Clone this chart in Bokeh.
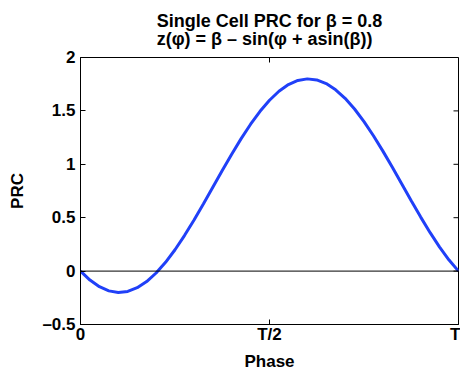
import math
from bokeh.plotting import figure
from bokeh.models import Title, Span, FixedTicker
from bokeh.embed import file_html
from bokeh.resources import INLINE

phase = [0.0, 0.025, 0.05, 0.075, 0.1, 0.125, 0.15, 0.175, 0.2, 0.225,
         0.25, 0.275, 0.3, 0.325, 0.35, 0.375, 0.4, 0.425, 0.45, 0.475,
         0.5, 0.525, 0.55, 0.575, 0.6, 0.625, 0.65, 0.675, 0.7, 0.725,
         0.75, 0.775, 0.8, 0.825, 0.85, 0.875, 0.9, 0.925, 0.95, 0.975, 1.0]
prc = [0.0, -0.0841, -0.1463, -0.1852, -0.1999, -0.19, -0.1556, -0.0978, -0.0177, 0.0822,
       0.2, 0.3325, 0.4766, 0.6286, 0.7848, 0.9414, 1.0945, 1.2404, 1.3754, 1.4963,
       1.6, 1.6841, 1.7463, 1.7852, 1.7999, 1.79, 1.7556, 1.6978, 1.6177, 1.5178,
       1.4, 1.2675, 1.1234, 0.9714, 0.8152, 0.6586, 0.5055, 0.3596, 0.2246, 0.1037, 0.0]
x_ticks = [0, 0.5, 1]
x_tick_labels = {0: "0", 0.5: "T/2", 1: "T"}
y_ticks = [-0.5, 0, 0.5, 1, 1.5, 2]
y_tick_labels = {-0.5: "\u20130.5", 0: "0", 0.5: "0.5", 1: "1", 1.5: "1.5", 2: "2"}
x_min, x_max = 0, 1
y_min, y_max = -0.5, 2
title_text = "Single Cell PRC for \u03b2 = 0.8\nz(\u03c6) = \u03b2 \u2013 sin(\u03c6 + asin(\u03b2))"

FONT = "Liberation Sans"
FS = "17px"

p = figure(width=460, height=377, output_backend="svg", toolbar_location=None,
           x_range=(x_min, x_max), y_range=(y_min, y_max),
           min_border_left=80, min_border_right=2, min_border_top=56, min_border_bottom=53)
p.title = None
p.grid.visible = False
p.outline_line_color = "black"
p.outline_line_width = 1

p.line(phase, prc, line_color="#2040f8", line_width=3)
p.add_layout(Span(location=0, dimension="width", line_color="black", line_width=1))

# inward ticks on the right and top edges of the box
p.ray(x=[x_max] * len(y_ticks), y=y_ticks, length=5, length_units="screen",
      angle=math.pi, line_color="black", line_width=1)
p.ray(x=x_ticks, y=[y_max] * len(x_ticks), length=5, length_units="screen",
      angle=-math.pi / 2, line_color="black", line_width=1)

for ax in (p.xaxis[0], p.yaxis[0]):
    ax.major_tick_in = 5
    ax.major_tick_out = 0
    ax.minor_tick_line_color = None
    ax.axis_line_color = "black"
    ax.major_label_text_font = FONT
    ax.major_label_text_font_size = FS
    ax.major_label_text_font_style = "bold"
    ax.major_label_text_color = "black"
    ax.axis_label_text_font = FONT
    ax.axis_label_text_font_size = FS
    ax.axis_label_text_font_style = "bold"
    ax.axis_label_text_color = "black"

p.xaxis[0].ticker = FixedTicker(ticks=x_ticks)
p.xaxis[0].major_label_overrides = x_tick_labels
p.xaxis[0].axis_label = "Phase"
p.xaxis[0].major_label_standoff = 0
p.xaxis[0].axis_label_standoff = 5
p.yaxis[0].ticker = FixedTicker(ticks=y_ticks)
p.yaxis[0].major_label_overrides = y_tick_labels
p.yaxis[0].axis_label = "PRC"
p.yaxis[0].major_label_standoff = 5
p.yaxis[0].axis_label_standoff = 12

p.add_layout(Title(text=title_text, align="center", text_font=FONT, text_font_size="18px",
                   text_font_style="bold", text_color="black", text_line_height=0.9,
                   standoff=17, offset=0), "above")

open("out.html", "w").write(file_html(p, INLINE))
